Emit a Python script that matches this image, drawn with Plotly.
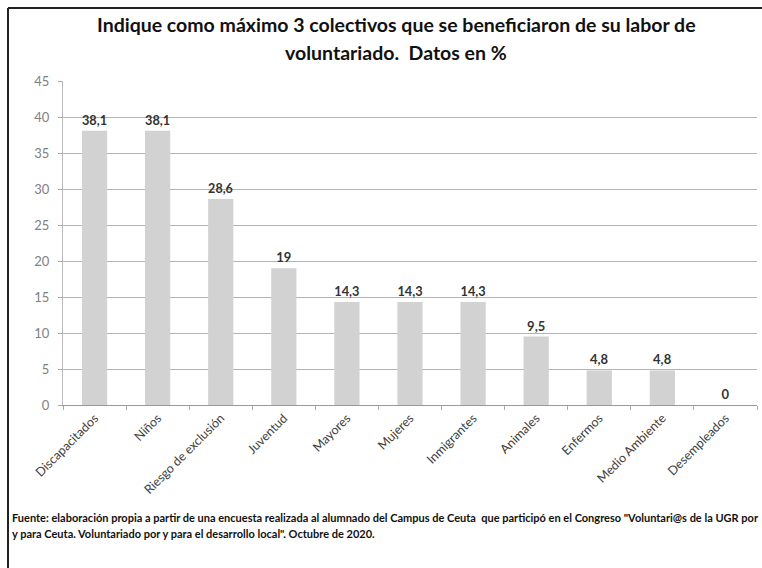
import plotly.graph_objects as go

categorias = ["Discapacitados", "Niños", "Riesgo de exclusión", "Juventud", "Mayores",
              "Mujeres", "Inmigrantes", "Animales", "Enfermos", "Medio Ambiente", "Desempleados"]
valores = [38.1, 38.1, 28.6, 19, 14.3, 14.3, 14.3, 9.5, 4.8, 4.8, 0]
etiquetas = [f"{v:g}".replace(".", ",") for v in valores]
y_ticks = [0, 5, 10, 15, 20, 25, 30, 35, 40, 45]

W, H = 762, 568
ML, MR, MT, MB = 63, 5, 81, 163
pw, ph = W - ML - MR, H - MT - MB
FONT = "Lato"

def px(x):
    return (x - ML) / pw

def py(y):
    return (H - MB - y) / ph

fig = go.Figure()
fig.add_trace(go.Bar(
    x=categorias, y=valores, text=etiquetas, textposition="outside",
    textfont=dict(family=FONT, size=13, color="#333333", weight="bold"),
    marker=dict(color="#d2d2d2", line=dict(width=0)),
    width=0.4, cliponaxis=False,
))

fig.update_layout(
    width=W, height=H,
    margin=dict(l=ML, r=MR, t=MT, b=MB),
    paper_bgcolor="white", plot_bgcolor="white",
    showlegend=False,
    font=dict(family=FONT),
    xaxis=dict(
        type="category", tickangle=-45, tickson="boundaries",
        ticks="outside", ticklen=4, tickcolor="#aaa",
        showline=True, linecolor="#999", linewidth=1,
        tickfont=dict(family=FONT, size=12.5, color="#404040"),
        showgrid=False, automargin=False,
    ),
    yaxis=dict(
        range=[0, 45], tickvals=y_ticks,
        ticks="outside", ticklen=4, tickcolor="#aaa",
        showline=True, linecolor="#bbb", linewidth=1,
        gridcolor="#b4b4b4", gridwidth=1,
        tickfont=dict(family=FONT, size=13, color="#808080"),
        ticklabelstandoff=6,
        zeroline=False, automargin=False,
    ),
)

fig.add_annotation(
    text="<b>Indique como máximo 3 colectivos que se beneficiaron de su labor de</b>",
    xref="paper", yref="paper", x=px(396), y=py(25), xanchor="center", yanchor="middle",
    showarrow=False, font=dict(family=FONT, size=19.5, color="#111"),
)
fig.add_annotation(
    text="<b>voluntariado.  Datos en %</b>",
    xref="paper", yref="paper", x=px(396), y=py(52), xanchor="center", yanchor="middle",
    showarrow=False, font=dict(family=FONT, size=19.5, color="#111"),
)

fig.add_annotation(
    text="<b>Fuente: elaboración propia a partir de una encuesta realizada al alumnado del Campus de Ceuta  que participó en el Congreso \"Voluntari@s de la UGR por</b>",
    xref="paper", yref="paper", x=px(10), y=py(517), xanchor="left", yanchor="middle",
    showarrow=False, font=dict(family=FONT, size=11, color="#111"),
)
fig.add_annotation(
    text="<b>y para Ceuta. Voluntariado por y para el desarrollo local\". Octubre de 2020.</b>",
    xref="paper", yref="paper", x=px(10), y=py(533), xanchor="left", yanchor="middle",
    showarrow=False, font=dict(family=FONT, size=11, color="#111"),
)

# outer frame (top and left edges)
fig.add_shape(type="line", xref="paper", yref="paper", x0=px(8), x1=px(762), y0=py(8), y1=py(8),
              line=dict(color="#222", width=2))
fig.add_shape(type="line", xref="paper", yref="paper", x0=px(8), x1=px(8), y0=py(8), y1=py(568),
              line=dict(color="#222", width=2))

fig.write_html("out.html", config={"displayModeBar": False},
               post_script="document.body.style.margin='0px';")
